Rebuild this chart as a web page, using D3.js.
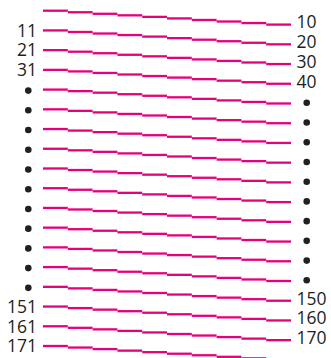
<!DOCTYPE html>
<html>
<head>
    <style>
        body { margin: 0; background: #fff; }
        .lbl { font: 17.5px "Open Sans", sans-serif; fill: #231f20; }
    </style>
    <script src="https://d3js.org/d3.v7.min.js"></script>
</head>
<body>
    <svg width="331" height="358"></svg>
    <script>
        // how many points each row holds (rows read left to right, top to bottom)
        var rowCounts = [10, 10, 10, 10, 10, 10, 10, 10, 10, 10, 10, 10, 10, 10, 10, 10, 10, 9];

        // labels at the start / end of each row ("dot" = ellipsis bullet)
        var leftLabels = ["", "11", "21", "31",
            "dot", "dot", "dot", "dot", "dot", "dot", "dot", "dot", "dot", "dot", "dot",
            "151", "161", "171"];
        var rightLabels = ["10", "20", "30", "40",
            "dot", "dot", "dot", "dot", "dot", "dot", "dot", "dot", "dot", "dot",
            "150", "160", "170", ""];

        var svg = d3.select("svg");

        var x = d3.scaleLinear().domain([0, 10]).range([43, 291]);
        var yRow = d3.scaleLinear().domain([0, rowCounts.length - 1]).range([10.7, 346]);
        var yStep = d3.scaleLinear().domain([0, 9]).range([0, 13.9]);

        var segs = [];
        rowCounts.forEach(function(n, r) {
            d3.range(n).forEach(function(j) { segs.push({ r: r, j: j }); });
        });

        svg.append("g").selectAll("line")
            .data(segs)
            .enter().append("line")
            .attr("x1", function(d) { return x(d.j); })
            .attr("x2", function(d) { return x(d.j + 1); })
            .attr("y1", function(d) { return yRow(d.r) + yStep(d.j); })
            .attr("y2", function(d) { return yRow(d.r) + yStep(d.j); })
            .attr("stroke", "#e5007d")
            .attr("stroke-width", 2.3);

        // left side
        var left = svg.append("g");
        leftLabels.forEach(function(t, r) {
            if (t === "dot") {
                left.append("circle").attr("cx", 28.3).attr("cy", yRow(r) + 1)
                    .attr("r", 3.3).attr("fill", "#231f20");
            } else if (t) {
                left.append("text").attr("class", "lbl")
                    .attr("x", 37).attr("y", yRow(r))
                    .attr("dy", "0.36em")
                    .attr("text-anchor", "end")
                    .text(t);
            }
        });

        // right side
        var right = svg.append("g");
        rightLabels.forEach(function(t, r) {
            var yEnd = yRow(r) + yStep(rowCounts[r] - 1);
            if (t === "dot") {
                right.append("circle").attr("cx", 306.7).attr("cy", yEnd - 0.7)
                    .attr("r", 3.3).attr("fill", "#231f20");
            } else if (t) {
                right.append("text").attr("class", "lbl")
                    .attr("x", 296.5).attr("y", yEnd - 2.5)
                    .attr("dy", "0.36em")
                    .text(t);
            }
        });
    </script>
</body>
</html>
